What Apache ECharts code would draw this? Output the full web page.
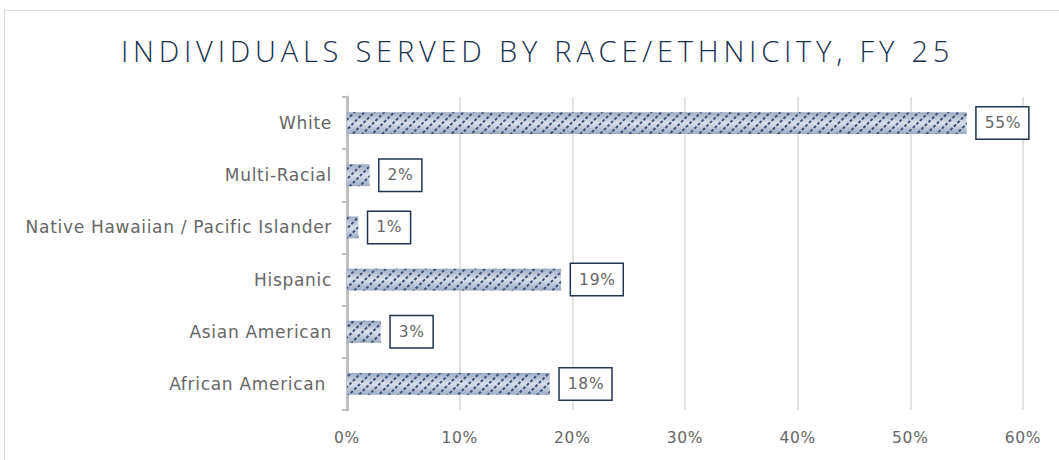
<!DOCTYPE html>
<html>
<head>
<meta charset="utf-8">
<script src="https://cdn.jsdelivr.net/npm/echarts@6/dist/echarts.min.js"></script>
<style>
  html, body { margin: 0; padding: 0; background: #fff; }
  #wrap { position: relative; width: 1059px; height: 460px; overflow: hidden; }
  #frame { position: absolute; left: 4px; top: 10px; width: 1100px; height: 500px;
           border: 1.5px solid #d9d9d9; box-sizing: border-box; }
  #title { position: absolute; left: 8px; top: 31px; width: 1059px; text-align: center;
           font-family: "Open Sans", sans-serif; font-weight: 300;
           font-size: 29px; letter-spacing: 4.8px; color: #17304f; margin: 0; }
  #chart { position: absolute; left: 0; top: 0; width: 1059px; height: 460px; }
  #chart text { letter-spacing: 0.7px; }
</style>
</head>
<body>
<div id="wrap">
  <div id="frame"></div>
  <div id="chart"></div>
  <h1 id="title">INDIVIDUALS SERVED BY RACE/ETHNICITY, FY 25</h1>
</div>
<script>
// Groups listed bottom to top
const categories = ['African American ', 'Asian American', 'Hispanic',
  'Native Hawaiian / Pacific Islander', 'Multi-Racial', 'White'];
// Share of individuals served, percent
const shares = [18, 3, 19, 1, 2, 55];
// Value axis ticks
const axisMin = 0;
const axisMax = 60;
const axisStep = 10;

const chart = echarts.init(document.getElementById('chart'), null, { renderer: 'svg' });

const barFill = new echarts.graphic.LinearGradient(0, 0, 0, 1, [
  { offset: 0, color: '#9dabc2' },
  { offset: 0.5, color: '#dae0ea' },
  { offset: 1, color: '#9dabc2' }
]);

const textFont = '"DejaVu Sans", sans-serif';

chart.setOption({
  animation: false,
  grid: { left: 347, right: 36, top: 97, bottom: 50 },
  xAxis: {
    type: 'value',
    min: axisMin,
    max: axisMax,
    interval: axisStep,
    axisLine: { show: false },
    axisTick: { show: false },
    splitLine: { lineStyle: { color: '#d9d9d9', width: 1.5 } },
    axisLabel: {
      formatter: '{value}%',
      color: '#666666',
      fontFamily: textFont,
      fontSize: 15.5,
      margin: 20
    }
  },
  yAxis: {
    type: 'category',
    data: categories,
    axisLine: { lineStyle: { color: '#bfbfbf', width: 3 } },
    axisTick: { show: true, length: 5, lineStyle: { color: '#bfbfbf', width: 2 } },
    axisLabel: {
      color: '#666666',
      fontFamily: textFont,
      fontSize: 17,
      margin: 15
    }
  },
  series: [{
    type: 'bar',
    data: shares,
    barWidth: '42%',
    itemStyle: {
      color: barFill,
      decal: {
        symbol: 'rect',
        symbolSize: 1,
        color: '#3e5378',
        dashArrayX: [3, 2],
        dashArrayY: [1.5, 5],
        rotation: -Math.PI / 4
      }
    },
    label: {
      show: true,
      position: 'right',
      distance: 10,
      formatter: '{c}%',
      color: '#666666',
      fontFamily: textFont,
      fontSize: 15.5,
      backgroundColor: '#ffffff',
      borderColor: '#1f3552',
      borderWidth: 1.5,
      padding: [8, 9, 7, 8]
    }
  }]
});
</script>
</body>
</html>
